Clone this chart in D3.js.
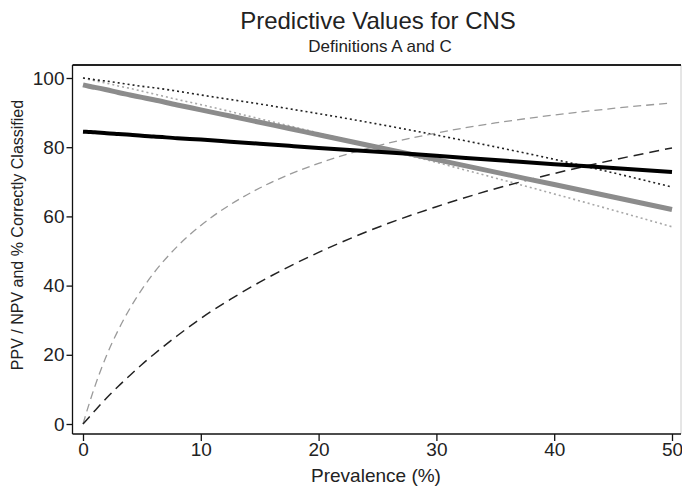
<!DOCTYPE html>
<meta charset='utf-8'>
<style>
    html, body {
        margin: 0;
        background: white;
    }

    .axis text {
        font-family: 'Liberation Sans', Arial, sans-serif;
        font-size: 19px;
        fill: #222;
    }

    .axis path, .axis line {
        stroke: #111;
        stroke-width: 1.3px;
    }

    .title {
        font-family: 'Liberation Sans', Arial, sans-serif;
        fill: #222;
        text-anchor: middle;
    }
</style>
<title>Predictive Values for CNS</title>
<body>

<script src='https://d3js.org/d3.v7.min.js'></script>
<script>

	// prevalence (%) where the curves were read
	let prevalence = [0, 0.5, 1, 2, 3, 4, 5, 6, 8, 10, 12.5, 15, 17.5, 20, 25, 30, 35, 40, 45, 50];

	let correctA = [84.5, 84.4, 84.3, 84.0, 83.8, 83.6, 83.3, 83.1, 82.6, 82.2, 81.6, 81.0, 80.4, 79.8, 78.7, 77.5, 76.3, 75.1, 74.0, 72.8];
	let correctC = [98.0, 97.6, 97.3, 96.6, 95.8, 95.1, 94.4, 93.7, 92.2, 90.8, 89.0, 87.2, 85.4, 83.6, 80.0, 76.4, 72.8, 69.2, 65.6, 62.0];
	let ppvA = [0, 1.9, 3.8, 7.5, 10.9, 14.1, 17.2, 20.1, 25.5, 30.5, 36.0, 41.0, 45.5, 49.6, 56.8, 62.8, 68.0, 72.4, 76.3, 79.8];
	let ppvC = [0, 5.6, 10.8, 19.8, 27.2, 33.5, 38.9, 43.6, 51.3, 57.4, 63.4, 68.2, 72.1, 75.3, 80.4, 84.1, 87.0, 89.3, 91.2, 92.8];
	let npvA = [100, 99.8, 99.5, 99.1, 98.6, 98.1, 97.6, 97.2, 96.2, 95.1, 93.8, 92.5, 91.1, 89.7, 86.7, 83.5, 80.1, 76.5, 72.6, 68.5];
	let npvC = [100, 99.6, 99.2, 98.5, 97.7, 97.0, 96.2, 95.4, 93.8, 92.3, 90.3, 88.2, 86.2, 84.1, 79.9, 75.6, 71.1, 66.5, 61.8, 57.0];

	let xTicks = [0, 10, 20, 30, 40, 50];
	let yTicks = [0, 20, 40, 60, 80, 100];

	let series = [
		{name: 'NPV C', values: npvC, color: '#a8a8a8', width: 1.6, dash: '2,3'},
		{name: 'NPV A', values: npvA, color: '#222', width: 1.6, dash: '2,3'},
		{name: 'PPV C', values: ppvC, color: '#9a9a9a', width: 1.3, dash: '8,5'},
		{name: 'PPV A', values: ppvA, color: '#222', width: 1.5, dash: '10,6'},
		{name: 'Correct C', values: correctC, color: '#8c8c8c', width: 5, dash: null},
		{name: 'Correct A', values: correctA, color: '#000', width: 4, dash: null}
	];

	let width = 682, height = 490;
	let frame = {left: 72.5, top: 65, right: 681, bottom: 434};

	let x = d3.scaleLinear()
		.domain([0, 50])
		.range([83, 672]);

	let y = d3.scaleLinear()
		.domain([0, 100])
		.range([424, 78]);

	let svg = d3.select('body').append('svg')
		.attr('width', width)
		.attr('height', height);

	// frame
	svg.append('line')
		.attr('x1', frame.right).attr('x2', frame.right)
		.attr('y1', frame.top).attr('y2', frame.bottom)
		.attr('stroke', '#ccc').attr('stroke-width', 1);
	svg.append('line')
		.attr('x1', frame.left).attr('x2', frame.right)
		.attr('y1', frame.top).attr('y2', frame.top)
		.attr('stroke', '#222').attr('stroke-width', 2);

	let line = d3.line()
		.x(function (d, i) { return x(prevalence[i]); })
		.y(function (d) { return y(d); })
		.curve(d3.curveMonotoneX);

	svg.selectAll('.series')
		.data(series)
		.enter().append('path')
		.attr('class', 'series')
		.attr('fill', 'none')
		.attr('stroke', function (d) { return d.color; })
		.attr('stroke-width', function (d) { return d.width; })
		.attr('stroke-dasharray', function (d) { return d.dash; })
		.attr('d', function (d) { return line(d.values); });

	let xAxis = svg.append('g')
		.attr('class', 'axis')
		.attr('transform', 'translate(0,' + frame.bottom + ')')
		.call(d3.axisBottom(x).tickValues(xTicks).tickSize(7).tickPadding(2).tickSizeOuter(0));
	xAxis.select('.domain').remove();
	xAxis.append('line')
		.attr('x1', frame.left).attr('x2', frame.right)
		.attr('stroke', '#111').attr('stroke-width', 2.2);

	let yAxis = svg.append('g')
		.attr('class', 'axis')
		.attr('transform', 'translate(' + frame.left + ',0)')
		.call(d3.axisLeft(y).tickValues(yTicks).tickSize(6).tickPadding(2).tickSizeOuter(0));
	yAxis.select('.domain').remove();
	yAxis.append('line')
		.attr('y1', frame.top).attr('y2', frame.bottom)
		.attr('stroke', '#111').attr('stroke-width', 2);

	svg.append('text')
		.attr('class', 'title')
		.attr('x', 378).attr('y', 29)
		.style('font-size', '24px')
		.text('Predictive Values for CNS');

	svg.append('text')
		.attr('class', 'title')
		.attr('x', 380).attr('y', 52)
		.style('font-size', '17px')
		.text('Definitions A and C');

	svg.append('text')
		.attr('class', 'title')
		.attr('x', 376).attr('y', 482)
		.style('font-size', '19px')
		.text('Prevalence (%)');

	svg.append('text')
		.attr('class', 'title')
		.attr('transform', 'translate(23,235) rotate(-90)')
		.style('font-size', '16px')
		.text('PPV / NPV and % Correctly Classified');

</script>
</body>
